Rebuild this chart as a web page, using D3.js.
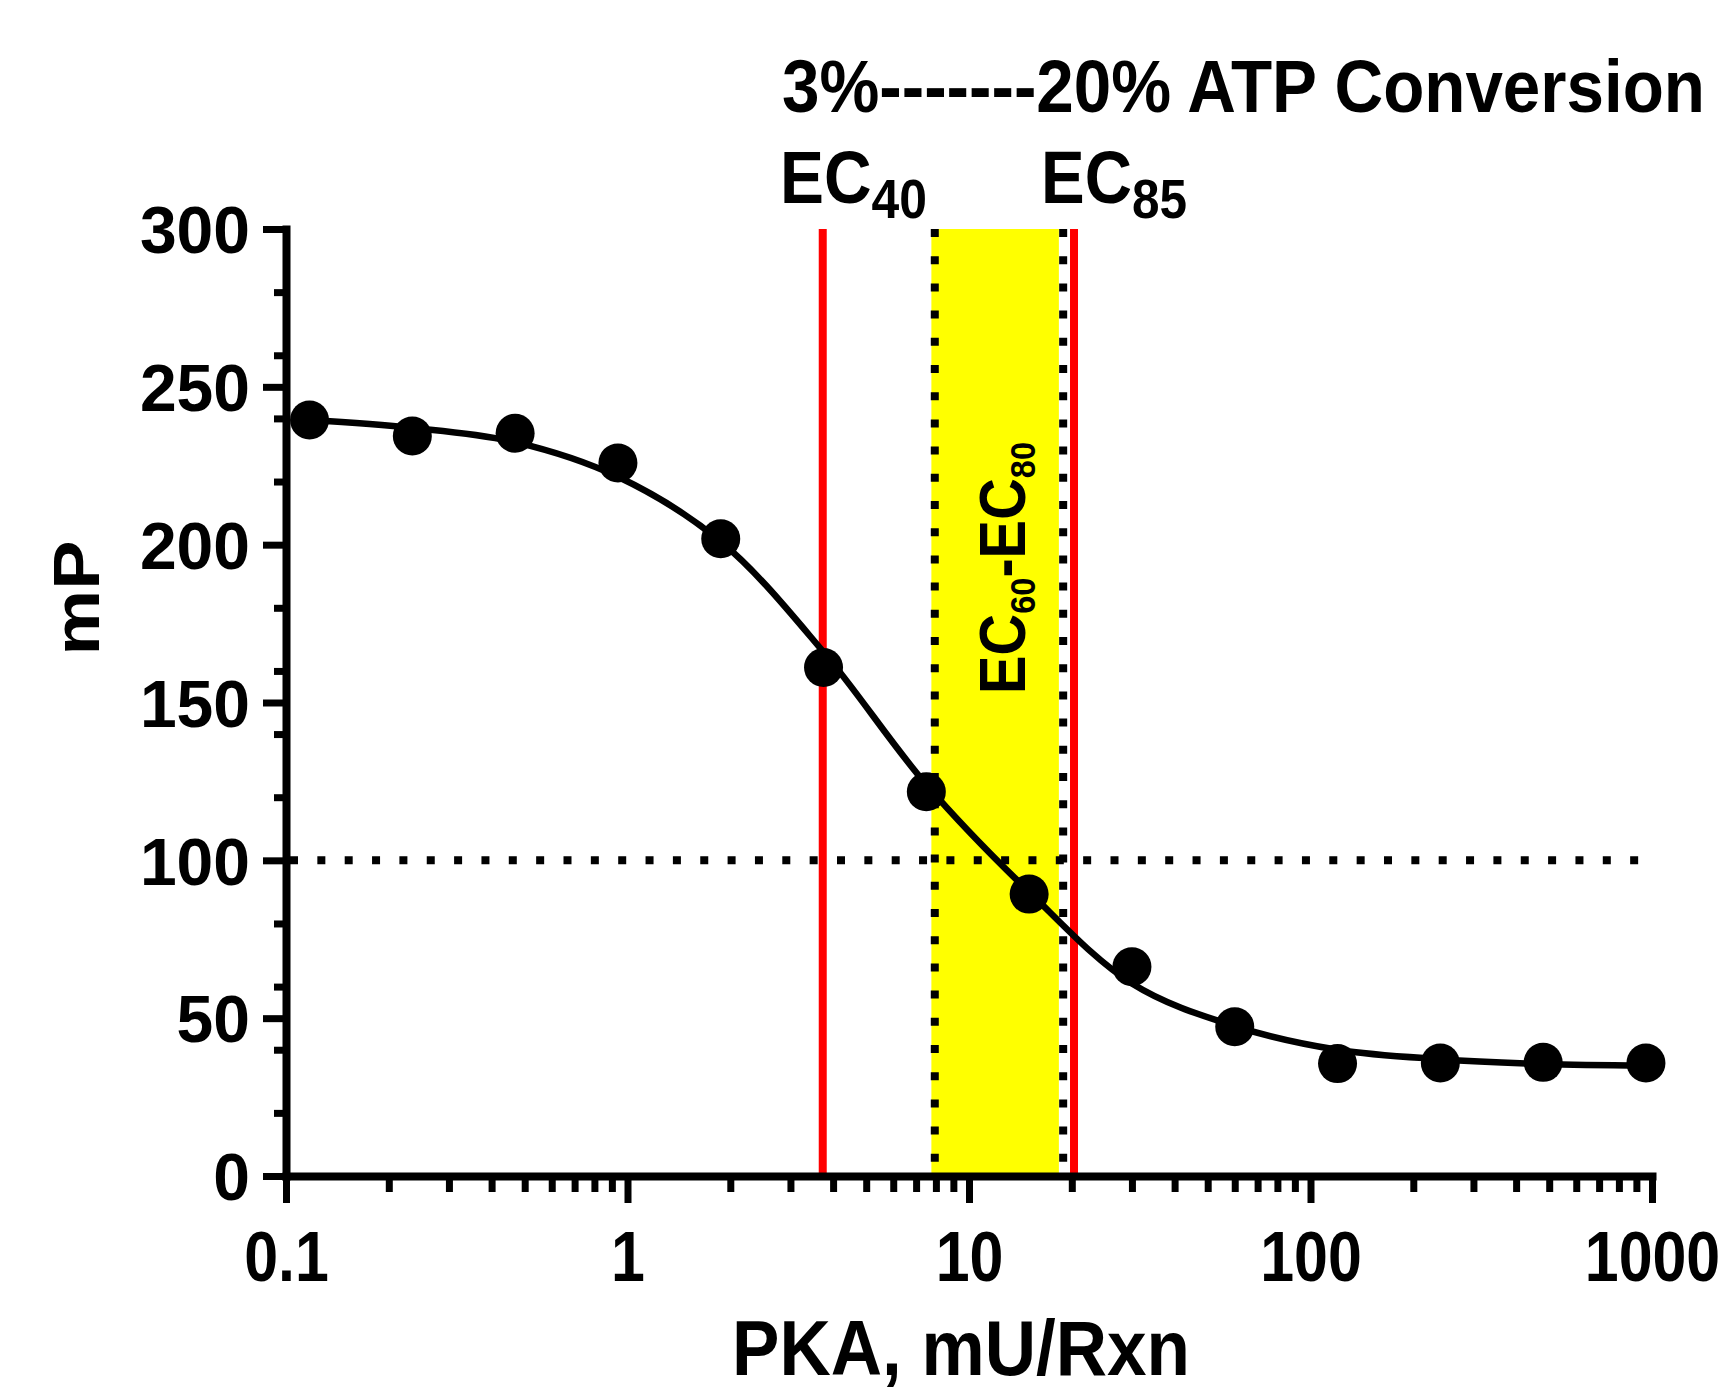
<!DOCTYPE html>
<html>
<head>
<meta charset="utf-8">
<script src="https://cdn.jsdelivr.net/npm/d3@7"></script>
<style>
  body { margin: 0; background: #fff; }
  text { font-family: "Liberation Sans", Arial, sans-serif; font-weight: bold; fill: #000; }
</style>
</head>
<body>
<script>
// PKA titration
var pkaDose = [0.1171875, 0.234375, 0.46875, 0.9375, 1.875, 3.75, 7.5, 15, 30, 60, 120, 240, 480, 960];
var mpValues = [239.5, 234.4, 235.3, 225.9, 201.9, 161.1, 121.7, 89.3, 66.3, 47.3, 35.6, 35.8, 36.0, 35.8];

// fitted curve
var fitDose = [0.1171875, 0.234375, 0.46875, 0.9375, 1.875, 3.75, 7.5, 15, 30, 60, 120, 240, 480, 960];
var fitMp = [239.5, 237.0, 232.5, 221.5, 201.0, 166.0, 124.0, 90.0, 61.0, 47.5, 40.0, 37.0, 35.5, 35.0];

var xTicks = [0.1, 1, 10, 100, 1000];
var xTickLabels = ["0.1", "1", "10", "100", "1000"];
var yTicks = [0, 50, 100, 150, 200, 250, 300];

var ecDose = [3.73, 20.3];          // EC40, EC85 (red)
var ecSubs = ["40", "85"];
var bandDose = [7.76, 18.33];        // EC60-EC80 yellow band
var bandEdges = [7.94, 18.87];       // dotted edges
var threshold = 100;

var W = 1727, H = 1394;
var margin = {top: 229, right: 75, bottom: 218, left: 286};

var x = d3.scaleLog().domain([0.1, 1000]).range([margin.left, W - margin.right]);
var y = d3.scaleLinear().domain([0, 300]).range([H - margin.bottom, margin.top]);

var svg = d3.select("body").append("svg")
  .attr("width", W)
  .attr("height", H);

// yellow band
svg.append("rect")
  .attr("x", x(bandDose[0]))
  .attr("y", y(300))
  .attr("width", x(bandDose[1]) - x(bandDose[0]))
  .attr("height", y(0) - y(300))
  .attr("fill", "#ffff00");

// red EC lines
svg.selectAll(".ec")
  .data(ecDose)
  .enter().append("line")
  .attr("x1", d => x(d)).attr("x2", d => x(d))
  .attr("y1", y(300)).attr("y2", y(0))
  .attr("stroke", "#ff0000")
  .attr("stroke-width", 8);

// dotted band edges
svg.selectAll(".edge")
  .data(bandEdges)
  .enter().append("line")
  .attr("x1", d => x(d)).attr("x2", d => x(d))
  .attr("y1", y(300)).attr("y2", y(0))
  .attr("stroke", "#000")
  .attr("stroke-width", 8)
  .attr("stroke-dasharray", "8 19.2");

// dotted 100 mP line
svg.append("line")
  .attr("x1", x(0.1) + 4).attr("x2", x(1000))
  .attr("y1", y(threshold)).attr("y2", y(threshold))
  .attr("stroke", "#000")
  .attr("stroke-width", 8)
  .attr("stroke-dasharray", "8 19.35");

// axes
var gx = svg.append("g")
  .attr("transform", "translate(0," + y(0) + ")")
  .call(d3.axisBottom(x).tickValues(xTicks)
    .tickFormat((d, i) => xTickLabels[i])
    .tickSize(27).tickSizeOuter(0));

var minorX = x.ticks().filter(d => xTicks.indexOf(d) < 0);
var gxm = svg.append("g")
  .attr("transform", "translate(0," + y(0) + ")")
  .call(d3.axisBottom(x).tickValues(minorX).tickFormat("").tickSize(16).tickSizeOuter(0));
gxm.select(".domain").remove();

var gy = svg.append("g")
  .attr("transform", "translate(" + x(0.1) + ",0)")
  .call(d3.axisLeft(y).tickValues(yTicks).tickSize(23).tickSizeOuter(0));

var minorY = y.ticks(12).filter(d => yTicks.indexOf(d) < 0);
var gym = svg.append("g")
  .attr("transform", "translate(" + x(0.1) + ",0)")
  .call(d3.axisLeft(y).tickValues(minorY).tickFormat("").tickSize(12).tickSizeOuter(0));
gym.select(".domain").remove();

svg.selectAll(".domain")
  .attr("stroke", "#000")
  .attr("stroke-width", 8)
  .attr("stroke-linecap", "square");
svg.selectAll(".tick line")
  .attr("stroke", "#000")
  .attr("stroke-width", 7);

gx.selectAll(".tick text")
  .attr("y", 105).attr("dy", null)
  .attr("font-size", 70)
  .attr("transform", "scale(0.87,1)");

gy.selectAll(".tick text")
  .attr("x", -36).attr("dy", "0.36em")
  .attr("font-size", 66);

gx.attr("font-family", null);
gy.attr("font-family", null);

// fitted curve
var line = d3.line()
  .x(d => x(d[0]))
  .y(d => y(d[1]))
  .curve(d3.curveCatmullRom.alpha(0.5));

svg.append("path")
  .datum(d3.zip(fitDose, fitMp))
  .attr("d", line)
  .attr("fill", "none")
  .attr("stroke", "#000")
  .attr("stroke-width", 6.5);

// data points
svg.selectAll(".pt")
  .data(d3.zip(pkaDose, mpValues))
  .enter().append("circle")
  .attr("cx", d => x(d[0]))
  .attr("cy", d => y(d[1]))
  .attr("r", 19.5)
  .attr("fill", "#000");

// squeeze a text horizontally to a given width
function fit(t, w) {
  var bw = t.node().getBBox().width;
  t.attr("transform", "scale(" + (w / bw) + ",1)");
}

function label(tx, anchor, size, w, parts) {
  var g = svg.append("g").attr("transform", tx);
  var t = g.append("text").attr("text-anchor", anchor).attr("font-size", size);
  parts.forEach(function(p) {
    var s = t.append("tspan").text(p[0]);
    if (p[1]) s.attr("font-size", p[1]);
    if (p[2]) s.attr("dy", p[2]);
  });
  fit(t, w);
  return g;
}

// titles
label("translate(782,112)", "start", 74, 923, [["3%-------20% ATP Conversion"]]);
label("translate(780,203)", "start", 74, 147, [["EC"], [ecSubs[0], 56, 15]]);
label("translate(1041,203)", "start", 74, 146, [["EC"], [ecSubs[1], 56, 15]]);
label("translate(1025,568) rotate(-90)", "middle", 64, 252,
  [["EC"], ["60", 36, 10], ["-", null, -10], ["EC"], ["80", 36, 10]]);
label("translate(961,1375)", "middle", 78, 458, [["PKA, mU/Rxn"]]);
label("translate(99,598) rotate(-90)", "middle", 65, 115, [["mP"]]);
</script>
</body>
</html>
